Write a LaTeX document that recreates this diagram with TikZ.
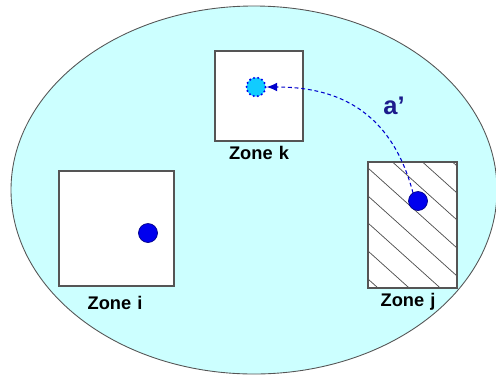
\documentclass[tikz,border=0pt]{standalone}
\usepackage{fontspec}
\setmainfont{Liberation Sans}
\usetikzlibrary{arrows.meta}
\definecolor{bgcyan}{HTML}{CCFFFF}
\definecolor{edgegray}{HTML}{555555}
\definecolor{dotblue}{HTML}{0000EE}
\definecolor{dotedge}{HTML}{000088}
\definecolor{lightdot}{HTML}{11CCFF}
\definecolor{labelblue}{HTML}{1C1C8C}
\tikzset{
  zonebox/.style={draw=edgegray, fill=white, line width=0.6pt},
  zonelabel/.style={font=\fontsize{10.4}{12}\selectfont\bfseries, text=black, inner sep=0pt},
  agent/.style={circle, fill=dotblue, draw=dotedge, line width=0.4pt, minimum size=19\pxu, inner sep=0pt},
  ghost/.style={circle, fill=lightdot, draw=dotblue, line width=1.3pt, line cap=round, dash pattern=on 0pt off 2.4pt, minimum size=19\pxu, inner sep=0pt},
  hatchline/.style={draw=black!70, line width=0.4pt},
  movearrow/.style={draw=blue!80!black, line width=0.6pt, dash pattern=on 2.2pt off 1.6pt, -{Latex[length=6pt,width=5pt]}}
}
\newlength{\pxu}
\setlength{\pxu}{0.02cm}
\begin{document}
\begin{tikzpicture}[x=0.02cm, y=-0.02cm]
\useasboundingbox (0,0) rectangle (496,376);
% outer region
\begin{scope}
\clip (0,0) rectangle (496,376);
\draw[fill=bgcyan, draw=edgegray, line width=0.5pt] (254,190) ellipse [x radius=243, y radius=184];
\end{scope}
% zones
\draw[zonebox] (215,51) rectangle (303,141);
\draw[zonebox] (59,171) rectangle (174,286);
\draw[zonebox] (368,162) rectangle (457,288);
\begin{scope}
\clip (368,162) rectangle (457,288);
\foreach \c in {86,113,140,168,196,223,251,279} {
  \draw[hatchline] (368,\c) -- (457,\c+80);
}
\end{scope}
\draw[zonebox, fill=none] (368,162) rectangle (457,288);
% labels
\node[zonelabel] (lk) at (259,153) {Zone\,\,k};
\node[zonelabel] (li) at (115,303) {Zone\,\,i};
\node[zonelabel] (lj) at (408,302) {Zone\,\,j};
% agents
\node[agent] (di) at (148,233) {};
\node[ghost] (dk) at (256,87) {};
\draw[movearrow] (413,193) .. controls (390,105) and (330,87) .. (dk.east);
\node[agent] (dj) at (418,201) {};
\node[font=\fontsize{14.5}{16}\selectfont\bfseries, text=labelblue] (la) at (394,106) {a’};
\end{tikzpicture}
\end{document}
